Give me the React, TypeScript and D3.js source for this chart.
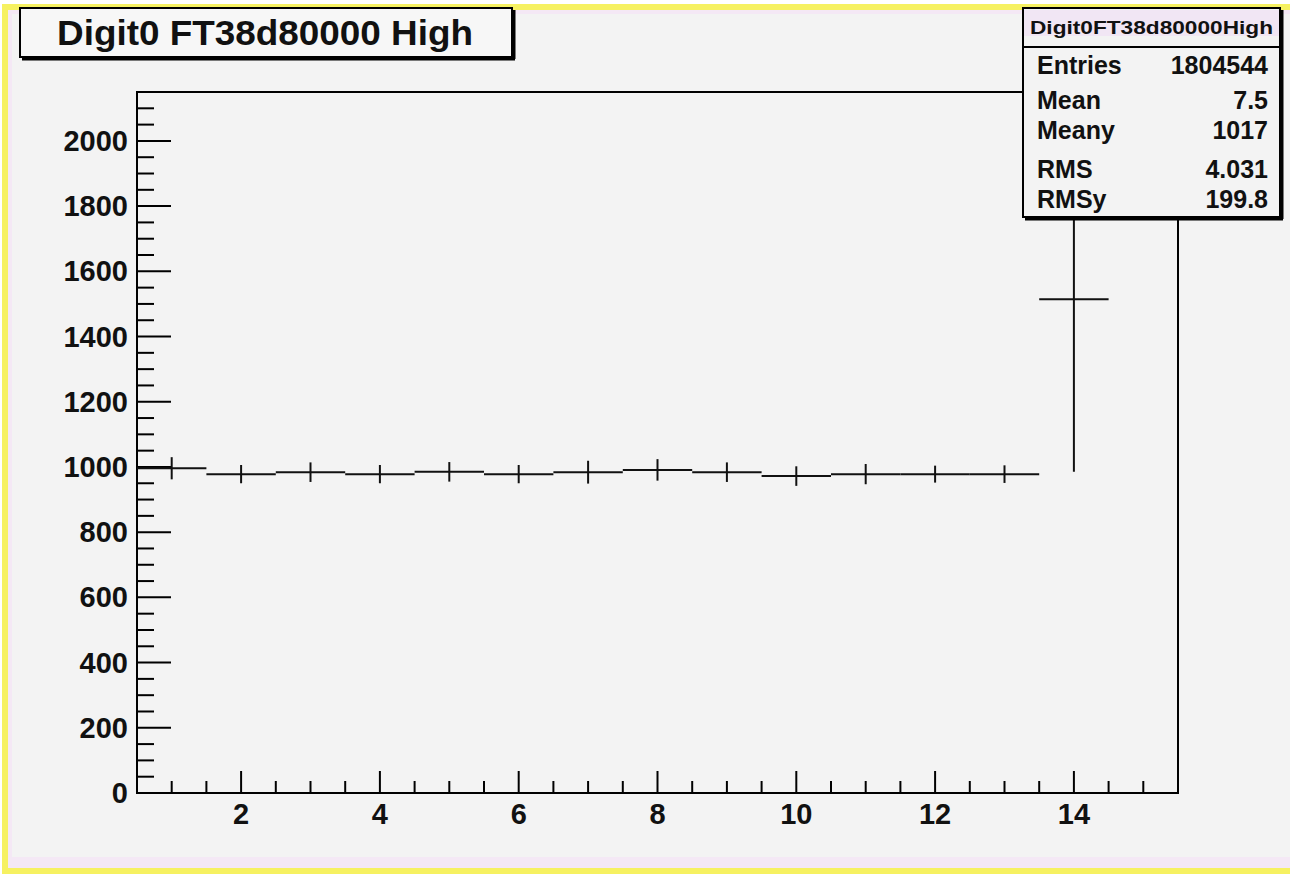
import React from 'react';
import * as d3 from 'd3';

// profile histogram values
const binCenters = [1, 2, 3, 4, 5, 6, 7, 8, 9, 10, 11, 12, 13, 14];
const profileMeans = [996, 978, 984, 978, 985, 978, 984, 991, 984, 972, 978, 978, 978, 1514];
const profileErrors = [34, 28, 30, 28, 30, 28, 35, 33, 30, 30, 31, 26, 27, 529];

const yTickLabels = [0, 200, 400, 600, 800, 1000, 1200, 1400, 1600, 1800, 2000];
const xTickLabels = [2, 4, 6, 8, 10, 12, 14];

const histTitle = 'Digit0 FT38d80000 High';
const statsName = 'Digit0FT38d80000High';
const statsLabels = ['Entries', 'Mean', 'Meany', 'RMS', 'RMSy'];
const statsValues = ['1804544', '7.5', '1017', '4.031', '199.8'];

const FONT = '"Liberation Sans", Arial, Helvetica, sans-serif';

export default function App() {
  const W = 1290, H = 874;
  const frame = { left: 137, right: 1178, top: 92, bottom: 793 };

  const x = d3.scaleLinear().domain([0.5, 15.5]).range([frame.left, frame.right]);
  const y = d3.scaleLinear().domain([0, 2150]).range([frame.bottom, frame.top]);

  const xMinor = d3.range(1, 15.5, 0.5).filter(v => v % 2 !== 0);
  const yMinor = d3.range(50, 2150, 50).filter(v => v % 200 !== 0);

  const statsY = [74, 109, 139, 178, 208];

  return (
    <svg width={W} height={H} style={{ position: 'absolute', left: 0, top: 0, display: 'block' }}
      fontFamily={FONT}>
      {/* canvas + highlighted border bands */}
      <rect x={0} y={0} width={W} height={H} fill="#ffffff" />
      <rect x={2} y={4} width={W - 2} height={H - 4} fill="#f6f161" />
      <rect x={8} y={10} width={W - 8} height={858} fill="#f4e8f5" />
      <rect x={12} y={14} width={W - 12} height={843} fill="#f3f3f3" />

      {/* frame */}
      <rect x={frame.left} y={frame.top} width={frame.right - frame.left}
        height={frame.bottom - frame.top} fill="#f3f3f3" stroke="#000" strokeWidth={2} />

      {/* axis ticks */}
      <g stroke="#000" strokeWidth={2}>
        {yTickLabels.map(v => (
          <line key={'ym' + v} x1={frame.left} x2={frame.left + 34} y1={y(v)} y2={y(v)} />
        ))}
        {yMinor.map(v => (
          <line key={'yn' + v} x1={frame.left} x2={frame.left + 17} y1={y(v)} y2={y(v)} />
        ))}
        {xTickLabels.map(v => (
          <line key={'xm' + v} x1={x(v)} x2={x(v)} y1={frame.bottom} y2={frame.bottom - 22} />
        ))}
        {xMinor.map(v => (
          <line key={'xn' + v} x1={x(v)} x2={x(v)} y1={frame.bottom} y2={frame.bottom - 12} />
        ))}
      </g>
      <g fontSize={29} fontWeight="bold" fill="#111">
        {yTickLabels.map(v => (
          <text key={'yl' + v} x={128} y={y(v) + 10} textAnchor="end">{v}</text>
        ))}
        {xTickLabels.map(v => (
          <text key={'xl' + v} x={x(v)} y={824} textAnchor="middle">{v}</text>
        ))}
      </g>

      {/* profile: bin contents with error bars */}
      <g stroke="#111" strokeWidth={2}>
        {binCenters.map((c, i) => (
          <g key={'b' + c}>
            <line x1={x(c - 0.5)} x2={x(c + 0.5)} y1={y(profileMeans[i])} y2={y(profileMeans[i])} />
            <line x1={x(c)} x2={x(c)} y1={y(profileMeans[i] - profileErrors[i])}
              y2={y(profileMeans[i] + profileErrors[i])} />
          </g>
        ))}
      </g>

      {/* title box */}
      <rect x={20} y={8} width={492} height={49} fill="#f7f7f7" stroke="#000" strokeWidth={2} />
      <line x1={22} x2={515} y1={59} y2={59} stroke="#000" strokeWidth={3} />
      <line x1={514} x2={514} y1={10} y2={59} stroke="#000" strokeWidth={3} />
      <text x={57} y={45} fontSize={35} fontWeight="bold" fill="#111"
        textLength={416} lengthAdjust="spacingAndGlyphs">{histTitle}</text>

      {/* stats box */}
      <rect x={1023} y={8} width={257} height={209} fill="#f3f3f3" stroke="#000" strokeWidth={2} />
      <rect x={1024} y={10} width={255} height={26} fill="#f1e6f4" />
      <line x1={1023} x2={1280} y1={47} y2={47} stroke="#000" strokeWidth={2} />
      <line x1={1025} x2={1283} y1={219} y2={219} stroke="#000" strokeWidth={3} />
      <line x1={1282} x2={1282} y1={10} y2={219} stroke="#000" strokeWidth={3} />
      <text x={1151.5} y={34} fontSize={19} fontWeight="bold" fill="#111" textAnchor="middle"
        textLength={243} lengthAdjust="spacingAndGlyphs">{statsName}</text>
      <g fontSize={25} fontWeight="bold" fill="#111">
        {statsLabels.map((l, i) => (
          <text key={'sl' + l} x={1037} y={statsY[i]}>{l}</text>
        ))}
        {statsValues.map((v, i) => (
          <text key={'sv' + i} x={1268} y={statsY[i]} textAnchor="end">{v}</text>
        ))}
      </g>
    </svg>
  );
}
